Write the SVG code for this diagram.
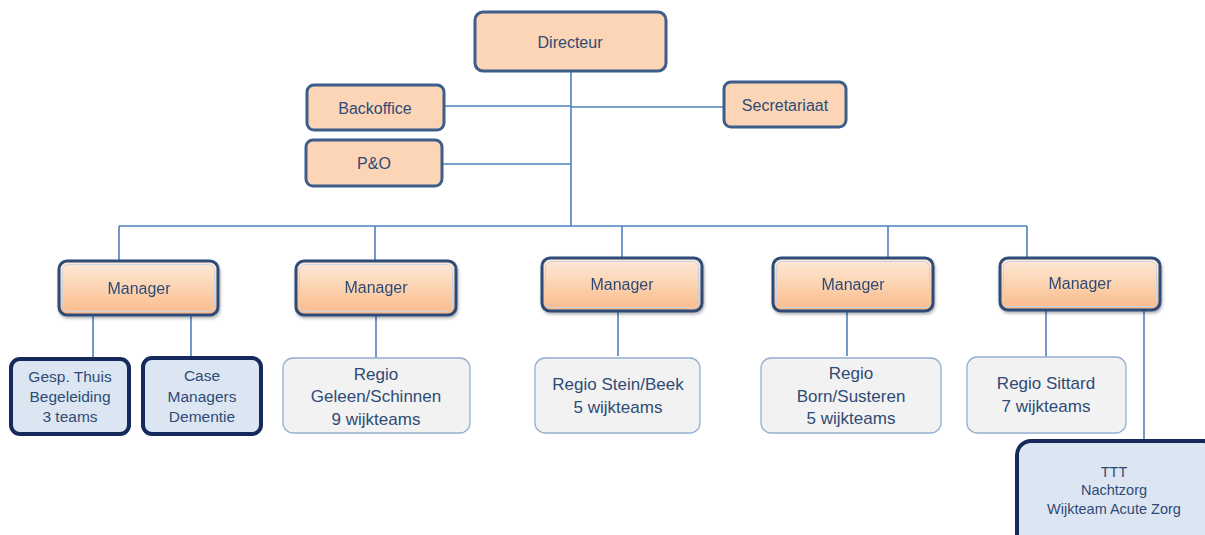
<svg xmlns="http://www.w3.org/2000/svg" width="1205" height="535" viewBox="0 0 1205 535">
<defs>
<linearGradient id="mg" x1="0" y1="0" x2="0" y2="1">
<stop offset="0" stop-color="#fdeadb"/>
<stop offset="0.5" stop-color="#fcd3b0"/>
<stop offset="1" stop-color="#f9b98a"/>
</linearGradient>
<filter id="sh" x="-10%" y="-10%" width="130%" height="140%">
<feDropShadow dx="1" dy="2" stdDeviation="1.5" flood-color="#000" flood-opacity="0.3"/>
</filter>
</defs>
<style>
text{font-family:"Liberation Sans",Arial,sans-serif;fill:#2f4b75;text-anchor:middle}
.top{fill:#fbd5b5;stroke:#3d5d8a;stroke-width:3}
.mgr{fill:url(#mg);stroke:#2d4b78;stroke-width:3}
.mgri{fill:none;stroke:#c8d3e3;stroke-width:1}
.dk{fill:#dce6f2;stroke:#15295a;stroke-width:4}
.rg{fill:#f2f2f2;stroke:#95aed0;stroke-width:1.3}
.c{stroke:#4f81bd;stroke-width:1.6;fill:none}
.t15{font-size:15.5px}
.t16{font-size:16px}
.t17{font-size:17px}
.t14{font-size:14.5px}
</style>
<g id="connectors">
<path class="c" d="M571 71V226M444 106H571M571 107H724M442 164H571"/>
<path class="c" d="M119 226H1027M119 226V261M375 226V261M622 226V258M888 226V258M1027 226V258"/>
<path class="c" d="M93 315V358M191 315V357M376 315V358M618 311V356M847 311V356M1046 310V357M1144 310V440"/>
</g>
<g id="directeur"><rect class="top" x="475" y="12" width="191" height="59" rx="8"/><text class="t16" x="570" y="48">Directeur</text></g>
<g id="backoffice"><rect class="top" x="307" y="85" width="137" height="45" rx="7"/><text class="t16" x="375" y="114">Backoffice</text></g>
<g id="secretariaat"><rect class="top" x="724" y="82" width="122" height="45" rx="7"/><text class="t16" x="785" y="111">Secretariaat</text></g>
<g id="po"><rect class="top" x="306" y="140" width="136" height="46" rx="7"/><text class="t16" x="374" y="169">P&amp;O</text></g>
<g id="manager1" filter="url(#sh)"><rect class="mgr" x="59" y="261" width="159" height="54" rx="8"/><rect class="mgri" x="62.5" y="264.5" width="152" height="47" rx="6"/><text class="t16" x="139" y="294">Manager</text></g>
<g id="manager2" filter="url(#sh)"><rect class="mgr" x="296" y="261" width="160" height="54" rx="8"/><rect class="mgri" x="299.5" y="264.5" width="153" height="47" rx="6"/><text class="t16" x="376" y="293">Manager</text></g>
<g id="manager3" filter="url(#sh)"><rect class="mgr" x="542" y="258" width="160" height="53" rx="8"/><rect class="mgri" x="545.5" y="261.5" width="153" height="46" rx="6"/><text class="t16" x="622" y="290">Manager</text></g>
<g id="manager4" filter="url(#sh)"><rect class="mgr" x="773" y="258" width="160" height="53" rx="8"/><rect class="mgri" x="776.5" y="261.5" width="153" height="46" rx="6"/><text class="t16" x="853" y="290">Manager</text></g>
<g id="manager5" filter="url(#sh)"><rect class="mgr" x="1000" y="258" width="160" height="52" rx="8"/><rect class="mgri" x="1003.5" y="261.5" width="153" height="45" rx="6"/><text class="t16" x="1080" y="289">Manager</text></g>
<g id="gesp"><rect class="dk" x="11" y="359" width="118" height="75" rx="9"/><text class="t15" x="70" y="382">Gesp. Thuis</text><text class="t15" x="70" y="402">Begeleiding</text><text class="t15" x="70" y="422">3 teams</text></g>
<g id="case"><rect class="dk" x="143" y="358" width="118" height="76" rx="9"/><text class="t15" x="202" y="381">Case</text><text class="t15" x="202" y="402">Managers</text><text class="t15" x="202" y="422">Dementie</text></g>
<g id="geleen"><rect class="rg" x="283" y="358" width="187" height="75" rx="10"/><text class="t17" x="376" y="380">Regio</text><text class="t17" x="376" y="402">Geleen/Schinnen</text><text class="t17" x="376" y="425">9 wijkteams</text></g>
<g id="stein"><rect class="rg" x="535" y="358" width="165" height="75" rx="10"/><text class="t17" x="618" y="390">Regio Stein/Beek</text><text class="t17" x="618" y="413">5 wijkteams</text></g>
<g id="born"><rect class="rg" x="761" y="358" width="180" height="75" rx="10"/><text class="t17" x="851" y="379">Regio</text><text class="t17" x="851" y="402">Born/Susteren</text><text class="t17" x="851" y="424">5 wijkteams</text></g>
<g id="sittard"><rect class="rg" x="967" y="357" width="159" height="76" rx="10"/><text class="t17" x="1046" y="389">Regio Sittard</text><text class="t17" x="1046" y="412">7 wijkteams</text></g>
<g id="ttt"><rect class="dk" x="1017" y="441" width="200" height="110" rx="14"/><text class="t14" x="1114" y="477">TTT</text><text class="t14" x="1114" y="495">Nachtzorg</text><text class="t14" x="1114" y="514">Wijkteam Acute Zorg</text></g>
</svg>
